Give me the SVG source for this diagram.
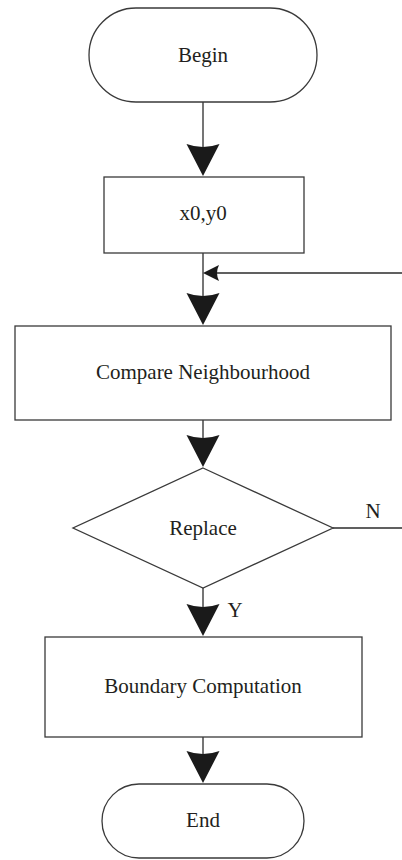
<svg xmlns="http://www.w3.org/2000/svg" xmlns:xlink="http://www.w3.org/1999/xlink" width="402" height="860" viewBox="0 0 402 860">
<style>
.shape{fill:#fff;stroke:#3a3a3a;stroke-width:1.3}
.line{fill:none;stroke:#2b2b2b;stroke-width:1.3}
.head{fill:#1a1a1a;stroke:none}
text{font-family:"Liberation Serif","Times New Roman",serif;font-size:21px;fill:#231f20;text-anchor:middle}
</style>
<defs>
<path id="down" class="head" d="M0,0 L-16.5,-32 Q0,-26 16.5,-32 Z"/>
<path id="left" class="head" d="M0,0 L16,-8 Q12,0 16,8 Z"/>
</defs>
<rect width="402" height="860" fill="#fff"/>
<g id="connectors">
<line class="line" x1="203" y1="102" x2="203" y2="150"/>
<use xlink:href="#down" x="203" y="176"/>
<line class="line" x1="203" y1="253" x2="203" y2="298"/>
<use xlink:href="#down" x="203" y="325"/>
<polyline class="line" points="402,273 214,273"/>
<use xlink:href="#left" x="203" y="273"/>
<line class="line" x1="203" y1="420" x2="203" y2="440"/>
<use xlink:href="#down" x="203" y="467"/>
<line class="line" x1="333" y1="528" x2="402" y2="528"/>
<text x="373" y="518">N</text>
<line class="line" x1="203" y1="588" x2="203" y2="610"/>
<use xlink:href="#down" x="203" y="636"/>
<text x="235" y="617">Y</text>
<line class="line" x1="203" y1="737" x2="203" y2="757"/>
<use xlink:href="#down" x="203" y="783"/>
</g>
<g id="begin">
<rect class="shape" x="89" y="8" width="228" height="94" rx="47" ry="47"/>
<text x="203" y="61.5">Begin</text>
</g>
<g id="init">
<rect class="shape" x="104" y="177" width="200" height="76"/>
<text x="203" y="220">x0,y0</text>
</g>
<g id="compare">
<rect class="shape" x="15" y="326" width="376" height="94"/>
<text x="203" y="379">Compare Neighbourhood</text>
</g>
<g id="replace">
<polygon class="shape" points="203,468 333,528 203,588 73,528"/>
<text x="203" y="535">Replace</text>
</g>
<g id="boundary">
<rect class="shape" x="45" y="637" width="317" height="100"/>
<text x="203" y="693">Boundary Computation</text>
</g>
<g id="end">
<rect class="shape" x="102" y="784" width="202" height="74" rx="37" ry="37"/>
<text x="203" y="827">End</text>
</g>
</svg>
